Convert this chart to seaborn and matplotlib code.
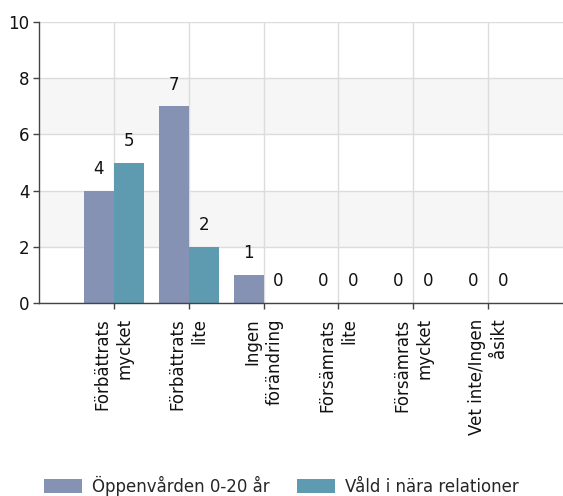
import pandas as pd
import seaborn as sns
import matplotlib.pyplot as plt

# Data
categories = ['Förbättrats\nmycket', 'Förbättrats\nlite', 'Ingen\nförändring',
              'Försämrats\nlite', 'Försämrats\nmycket', 'Vet inte/Ingen\nåsikt']
series = ['Öppenvården 0-20 år', 'Våld i nära relationer']
oppenvarden = [4, 7, 1, 0, 0, 0]
vald = [5, 2, 0, 0, 0, 0]
colors = ['#8592b4', '#5f9bb0']

df = pd.DataFrame({
    'kategori': categories * 2,
    'antal': oppenvarden + vald,
    'grupp': [series[0]] * len(categories) + [series[1]] * len(categories),
})

sns.set_style('white')
plt.rcParams['font.family'] = ['DejaVu Sans']

fig = plt.figure(figsize=(5.63, 4.96), dpi=100)
ax = fig.add_axes([39 / 563, 193 / 496, 524 / 563, 281 / 496])

# Background bands
for lo in [2, 6]:
    ax.axhspan(lo, lo + 2, color='#f6f6f6', zorder=0, lw=0)

sns.barplot(data=df, x='kategori', y='antal', hue='grupp', palette=colors,
            width=0.8, saturation=1, linewidth=0, ax=ax, zorder=2)

# Numbers on top of bars
for cont in ax.containers:
    ax.bar_label(cont, padding=9, fontsize=12, color='#111111')

ax.set_xlim(-1, 6)
ax.set_ylim(0, 10)
ax.set_yticks(range(0, 11, 2))
ax.set_axisbelow(True)
ax.grid(True, color='#dcdcdc', lw=1)
ax.set_xlabel('')
ax.set_ylabel('')

for s in ['top', 'right']:
    ax.spines[s].set_visible(False)
for s in ['left', 'bottom']:
    ax.spines[s].set_color('#444444')
    ax.spines[s].set_linewidth(1)

ax.tick_params(axis='both', length=4, width=1, color='#444444', labelsize=12,
               labelcolor='#111111', direction='out', left=True, bottom=True)
ax.tick_params(axis='x', pad=7)
ax.tick_params(axis='y', pad=3)
ax.set_xticks(range(len(categories)))
ax.set_xticklabels(categories, rotation=90, ha='center', va='top',
                   multialignment='right', linespacing=1.3)

# Legend at the bottom
handles, labels = ax.get_legend_handles_labels()
ax.get_legend().remove()
fig.legend(handles, labels, loc='lower center', bbox_to_anchor=(0.5, -0.03),
           ncol=2, frameon=False, fontsize=12, handlelength=2.3,
           handleheight=0.85, handletextpad=0.6, columnspacing=1.6)

plt.savefig('out.png', dpi=100)
